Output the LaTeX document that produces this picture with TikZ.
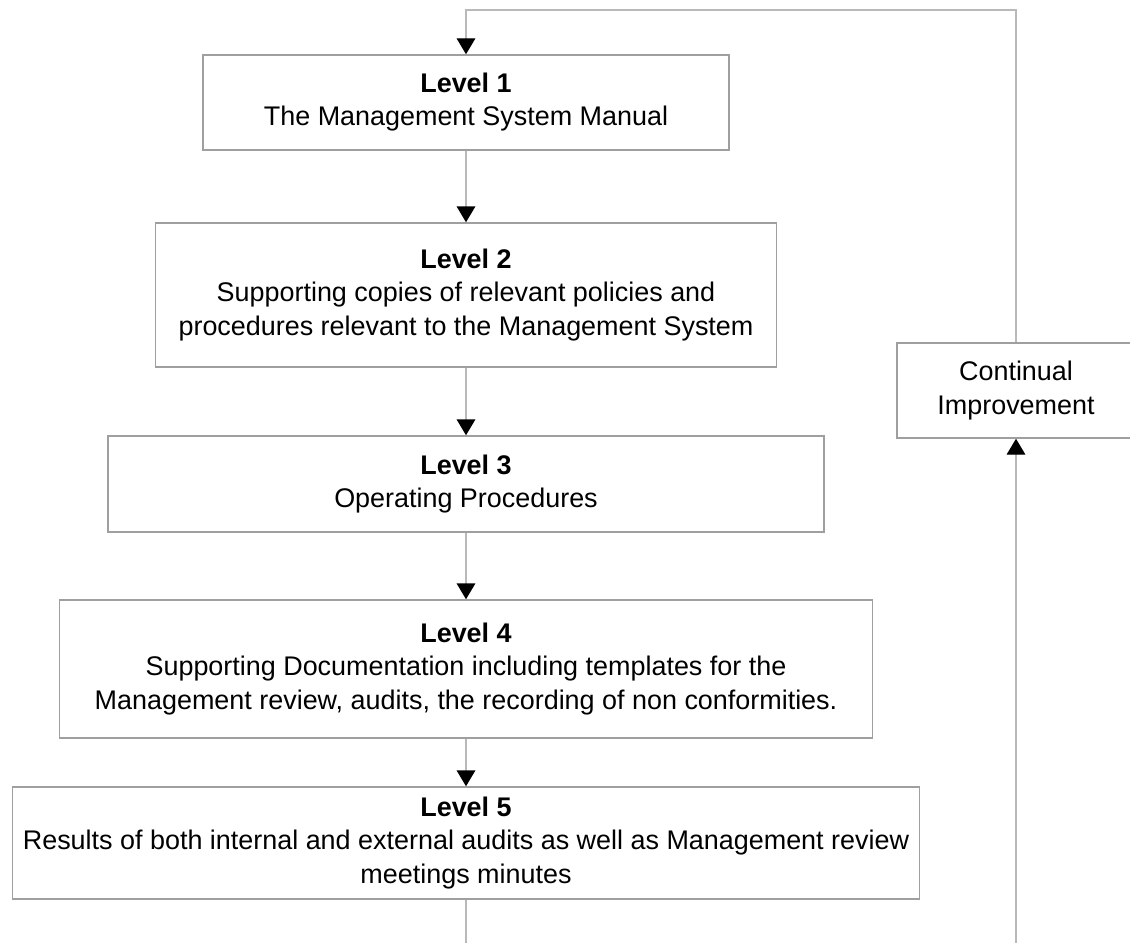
\documentclass[tikz,border=0pt]{standalone}
\usepackage{fontspec}
\setmainfont{Liberation Sans}
\usepackage{tikz}
\usetikzlibrary{positioning, arrows.meta}

\begin{document}
\begin{tikzpicture}[
    x=0.75pt, y=-0.75pt,
    levelbox/.style={draw=gray!75, line width=1.1pt, fill=white, align=center, inner sep=0pt,
                     font=\fontsize{20.2}{24.8}\selectfont},
    flowarr/.style={-{Triangle[length=12pt, width=14pt, color=black]}, gray!55, line width=1.1pt},
    flowline/.style={gray!55, line width=1.1pt}
]
\useasboundingbox (0,0) rectangle (1130,942);

% ---- Levels (one column, centred) ----
\node[levelbox, minimum width=394.5pt, minimum height=71.25pt] (lvlone)   at (466, 102.5)
    {\textbf{Level 1}\\The Management System Manual};
\node[levelbox, minimum width=465.75pt, minimum height=108pt] (lvltwo)   at (466, 295)
    {\textbf{Level 2}\\Supporting copies of relevant policies and\\procedures relevant to the Management System};
\node[levelbox, minimum width=537pt, minimum height=72pt] (lvlthree) at (466, 484)
    {\textbf{Level 3}\\Operating Procedures};
\node[levelbox, minimum width=609.75pt, minimum height=103.5pt] (lvlfour)  at (466, 669)
    {\textbf{Level 4}\\Supporting Documentation including templates for the\\Management review, audits, the recording of non conformities.};
\node[levelbox, minimum width=680.25pt, minimum height=84pt] (lvlfive)  at (466, 843)
    {\textbf{Level 5}\\Results of both internal and external audits as well as Management review\\meetings minutes};

% ---- Continual improvement (right edge) ----
\node[levelbox, minimum width=178.5pt, minimum height=71.25pt] (improve) at (1016, 390.5)
    {Continual\\Improvement};

% ---- Downward arrows ----
\draw[flowarr] (lvlone)   -- (lvltwo);
\draw[flowarr] (lvltwo)   -- (lvlthree);
\draw[flowarr] (lvlthree) -- (lvlfour);
\draw[flowarr] (lvlfour)  -- (lvlfive);

% ---- Feedback loop ----
\coordinate (loopbot) at (740, 965);
\coordinate (looptop) at (740, 10);
\draw[flowarr] (lvlfive.south) |- (loopbot) -| (improve.south);
\draw[flowarr] (improve.north) |- (looptop) -| (lvlone.north);

\end{tikzpicture}
\end{document}
